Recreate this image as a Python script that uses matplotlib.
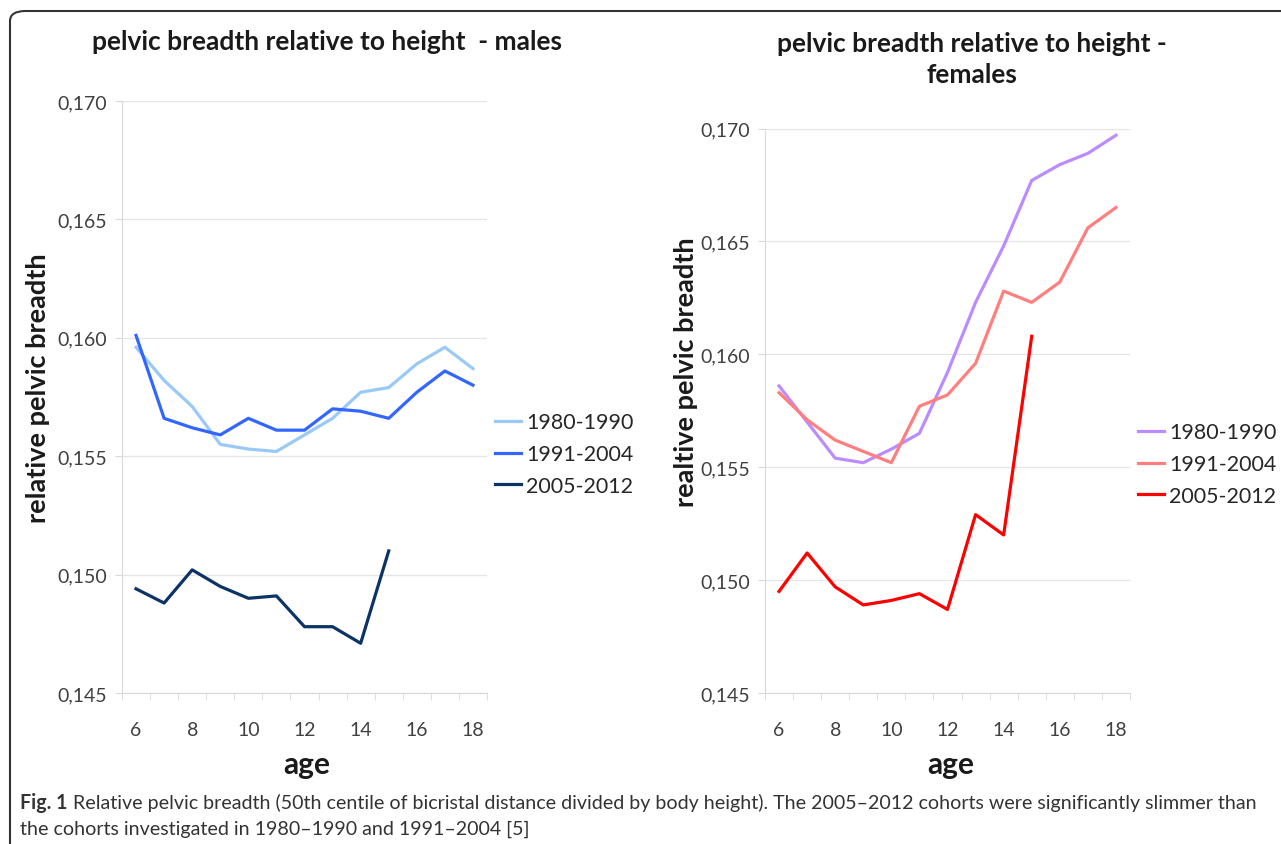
import matplotlib
matplotlib.use('Agg')
import matplotlib.pyplot as plt
from matplotlib.patches import FancyBboxPatch
from matplotlib.ticker import FuncFormatter

ages = [6, 7, 8, 9, 10, 11, 12, 13, 14, 15, 16, 17, 18]
cohorts = ['1980-1990', '1991-2004', '2005-2012']

males_1980 = [0.1596, 0.1582, 0.1571, 0.1555, 0.1553, 0.1552, 0.1559, 0.1566, 0.1577, 0.1579, 0.1589, 0.1596, 0.1587]
males_1991 = [0.1601, 0.1566, 0.1562, 0.1559, 0.1566, 0.1561, 0.1561, 0.1570, 0.1569, 0.1566, 0.1577, 0.1586, 0.1580]
males_2005 = [0.1494, 0.1488, 0.1502, 0.1495, 0.1490, 0.1491, 0.1478, 0.1478, 0.1471, 0.1510]

females_1980 = [0.1586, 0.1570, 0.1554, 0.1552, 0.1558, 0.1565, 0.1592, 0.1623, 0.1648, 0.1677, 0.1684, 0.1689, 0.1697]
females_1991 = [0.1583, 0.1571, 0.1562, 0.1557, 0.1552, 0.1577, 0.1582, 0.1596, 0.1628, 0.1623, 0.1632, 0.1656, 0.1665]
females_2005 = [0.1495, 0.1512, 0.1497, 0.1489, 0.1491, 0.1494, 0.1487, 0.1529, 0.1520, 0.1608]

male_colors = ['#99c9f7', '#3366ff', '#0b3366']
female_colors = ['#bb8cff', '#ff7f7f', '#ff0000']

yticks = [0.145, 0.150, 0.155, 0.160, 0.165, 0.170]
xticks = [6, 8, 10, 12, 14, 16, 18]

plt.rcParams['font.family'] = ['Lato', 'DejaVu Sans']

W, H = 1281, 845
fig = plt.figure(figsize=(W / 100, H / 100), dpi=100)

# rounded frame of the figure panel, running off the right and bottom edges
frame = FancyBboxPatch((10 / W, -0.2), 1.2, 1 - 12 / H + 0.2,
                       boxstyle='round,pad=0,rounding_size=0.012',
                       transform=fig.transFigure, fill=False,
                       edgecolor='#333333', linewidth=1.5)
fig.patches.append(frame)

fmt = FuncFormatter(lambda v, p: ('%.3f' % v).replace('.', ','))
dark = '#1a1a1a'


def style_axis(ax, legend_pos):
    ax.set_xlim(5.5, 18.5)
    ax.set_ylim(0.145, 0.170)
    ax.set_yticks(yticks)
    ax.yaxis.set_major_formatter(fmt)
    ax.set_xticks(xticks)
    ax.set_xticks([a + 0.5 for a in range(5, 19)], minor=True)
    ax.grid(axis='y', color='#e6e6e6', linewidth=1)
    ax.set_axisbelow(True)
    for s in ['top', 'right']:
        ax.spines[s].set_visible(False)
    for s in ['left', 'bottom']:
        ax.spines[s].set_color('#d9d9d9')
    ax.tick_params(axis='y', length=5, color='#d9d9d9', labelsize=14,
                   labelcolor='#404040', pad=6)
    ax.tick_params(axis='x', which='major', length=0, labelsize=14,
                   labelcolor='#404040', pad=20)
    ax.tick_params(axis='x', which='minor', length=5, color='#d9d9d9')
    ax.legend(loc='center left', bbox_to_anchor=legend_pos,
              bbox_transform=fig.transFigure, frameon=False, fontsize=15.4,
              handlelength=1.2, handletextpad=0.25, labelspacing=0.55,
              borderpad=0, borderaxespad=0, labelcolor='#262626')


ax1 = fig.add_axes([122 / W, 1 - 694 / H, 365 / W, 592 / H])
ax1.plot(ages, males_1980, color=male_colors[0], lw=2.3, label=cohorts[0])
ax1.plot(ages, males_1991, color=male_colors[1], lw=2.3, label=cohorts[1])
ax1.plot(ages[:len(males_2005)], males_2005, color=male_colors[2], lw=2.3, label=cohorts[2])
style_axis(ax1, (495 / W, 1 - 455 / H))

ax2 = fig.add_axes([765 / W, 1 - 694 / H, 365 / W, 564.5 / H])
ax2.plot(ages, females_1980, color=female_colors[0], lw=2.3, label=cohorts[0])
ax2.plot(ages, females_1991, color=female_colors[1], lw=2.3, label=cohorts[1])
ax2.plot(ages[:len(females_2005)], females_2005, color=female_colors[2], lw=2.3, label=cohorts[2])
style_axis(ax2, (1138 / W, 1 - 465 / H))

# titles and axis titles
fig.text(327 / W, 1 - 42 / H, 'pelvic breadth relative to height  - males',
         ha='center', va='center', fontsize=19, fontweight='bold', color=dark)
fig.text(972 / W, 1 - 59.5 / H, 'pelvic breadth relative to height -\nfemales',
         ha='center', va='center', fontsize=19, fontweight='bold', color=dark,
         linespacing=1.35)
fig.text(38 / W, 1 - 388 / H, 'relative pelvic breadth', rotation=90,
         ha='center', va='center', fontsize=19.5, fontweight='bold', color=dark)
fig.text(686 / W, 1 - 372 / H, 'realtive pelvic breadth', rotation=90,
         ha='center', va='center', fontsize=19.5, fontweight='bold', color=dark)
fig.text(307 / W, 1 - 765 / H, 'age', ha='center', va='center',
         fontsize=21.5, fontweight='bold', color=dark)
fig.text(951 / W, 1 - 765 / H, 'age', ha='center', va='center',
         fontsize=21.5, fontweight='bold', color=dark)

# caption
cap_font = ['Lato', 'DejaVu Sans']
fig.text(20 / W, 1 - 803 / H, 'Fig. 1', ha='left', va='center', fontsize=14.1,
         fontweight='bold', color='#333333', family=cap_font)
fig.text(73 / W, 1 - 803 / H,
         'Relative pelvic breadth (50th centile of bicristal distance divided by body height). '
         'The 2005\u20132012 cohorts were significantly slimmer than',
         ha='left', va='center', fontsize=14.1, color='#333333', family=cap_font)
fig.text(20 / W, 1 - 829 / H,
         'the cohorts investigated in 1980\u20131990 and 1991\u20132004 [5]',
         ha='left', va='center', fontsize=14.1, color='#333333', family=cap_font)

fig.savefig('out.png', dpi=100)
